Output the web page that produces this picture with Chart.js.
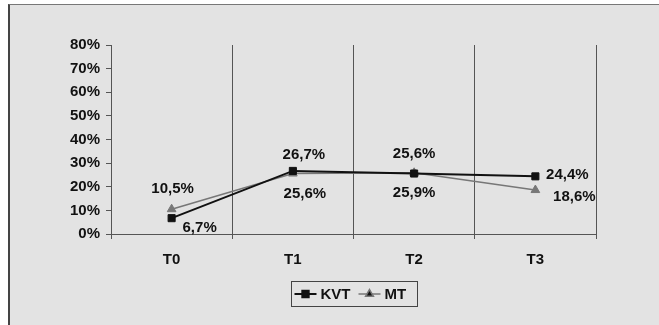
<!DOCTYPE html>
<html lang="en">
<head>
    <meta charset="UTF-8">
    <title>KVT / MT</title>
    <style>
        body {
            margin: 0;
            padding: 0;
            background: #ffffff;
        }

        .frame {
            position: absolute;
            left: 8px;
            top: 4px;
            width: 660px;
            height: 340px;
            border: 1px solid #777;
            border-left: 2px solid #444;
            background: #e3e3e3;
        }

        #chart {
            position: absolute;
            left: 0;
            top: 0;
        }
    </style>
</head>

<body>
    <div class="frame"></div>
    <canvas id="chart" width="659" height="325"></canvas>

    <script src="https://cdn.jsdelivr.net/npm/chart.js"></script>

    <script>
        const categories = ['T0', 'T1', 'T2', 'T3'];
        const kvtValues = [6.7, 26.7, 25.6, 24.4];
        const mtValues = [10.5, 25.6, 25.9, 18.6];
        const yTicks = [0, 10, 20, 30, 40, 50, 60, 70, 80];

        // where each value label sits relative to its point (px)
        const kvtLabelShift = [[28, 10], [11, -16], [0, -20], [32, -1]];
        const mtLabelShift = [[1, -20], [12, 20], [0, 20], [39, 7]];

        const FONT = '"Liberation Sans", Arial, sans-serif';
        const fmt = v => v.toFixed(1).replace('.', ',') + '%';

        const valueLabels = {
            id: 'valueLabels',
            afterDatasetsDraw(chart) {
                const ctx = chart.ctx;
                ctx.save();
                ctx.font = 'bold 15px ' + FONT;
                ctx.fillStyle = '#111';
                ctx.textAlign = 'center';
                ctx.textBaseline = 'middle';
                [kvtLabelShift, mtLabelShift].forEach((shift, i) => {
                    const meta = chart.getDatasetMeta(i);
                    const values = chart.data.datasets[i].data;
                    meta.data.forEach((pt, j) => {
                        ctx.fillText(fmt(values[j]), pt.x + shift[j][0], pt.y + shift[j][1]);
                    });
                });
                ctx.restore();
            }
        };

        // boxed legend with line + marker samples
        const boxLegend = {
            id: 'boxLegend',
            afterDraw(chart) {
                const ctx = chart.ctx;
                const area = chart.chartArea;
                const cx = (area.left + area.right) / 2;
                const w = 126, h = 25;
                const x0 = Math.round(cx - w / 2) + 0.5, y0 = 281.5;
                ctx.save();
                ctx.strokeStyle = '#444';
                ctx.lineWidth = 1;
                ctx.strokeRect(x0, y0, w, h);
                ctx.font = 'bold 15px ' + FONT;
                ctx.textBaseline = 'middle';
                ctx.fillStyle = '#111';
                let x = x0 + 3;
                const y = y0 + h / 2;
                chart.data.datasets.forEach(ds => {
                    ctx.strokeStyle = ds.borderColor;
                    ctx.lineWidth = ds.borderWidth;
                    ctx.beginPath();
                    ctx.moveTo(x, y);
                    ctx.lineTo(x + 22, y);
                    ctx.stroke();
                    Chart.helpers.drawPoint(ctx, {
                        pointStyle: ds.pointStyle,
                        radius: ds.pointRadius - 0.5,
                        borderWidth: 1
                    }, x + 11, y);
                    ctx.fillStyle = '#111';
                    ctx.fillText(ds.label, x + 26, y + 1);
                    x += 26 + ctx.measureText(ds.label).width + 8;
                });
                ctx.restore();
            }
        };

        new Chart(document.getElementById('chart'), {
            type: 'line',
            data: {
                labels: categories,
                datasets: [
                    {
                        label: 'KVT',
                        data: kvtValues,
                        borderColor: '#111',
                        backgroundColor: '#111',
                        borderWidth: 2,
                        pointStyle: 'rect',
                        pointRadius: 5,
                        pointBorderWidth: 1,
                        tension: 0
                    },
                    {
                        label: 'MT',
                        data: mtValues,
                        borderColor: '#777',
                        backgroundColor: '#777',
                        borderWidth: 1.5,
                        pointStyle: 'triangle',
                        pointRadius: 5,
                        pointBorderWidth: 1,
                        tension: 0
                    }
                ]
            },
            options: {
                responsive: false,
                animation: false,
                layout: { padding: { left: 0, top: 45, right: 63, bottom: 0 } },
                plugins: {
                    legend: { display: false },
                    tooltip: { enabled: false }
                },
                scales: {
                    x: {
                        offset: true,
                        afterFit: s => { s.height = 91; },
                        grid: {
                            offset: true,
                            color: '#555',
                            lineWidth: 1,
                            tickLength: 5
                        },
                        border: { color: '#555' },
                        ticks: {
                            padding: 12,
                            color: '#111',
                            font: { family: FONT, size: 15, weight: 'bold' }
                        }
                    },
                    y: {
                        min: 0,
                        max: 80,
                        afterFit: s => { s.width = 111; },
                        afterBuildTicks: s => { s.ticks = yTicks.map(v => ({ value: v })); },
                        grid: {
                            drawOnChartArea: false,
                            color: '#555',
                            tickLength: 5
                        },
                        border: { color: '#555' },
                        ticks: {
                            padding: 6,
                            color: '#111',
                            font: { family: FONT, size: 15, weight: 'bold' },
                            callback: v => v + '%'
                        }
                    }
                }
            },
            plugins: [valueLabels, boxLegend]
        });
    </script>
</body>
</html>
